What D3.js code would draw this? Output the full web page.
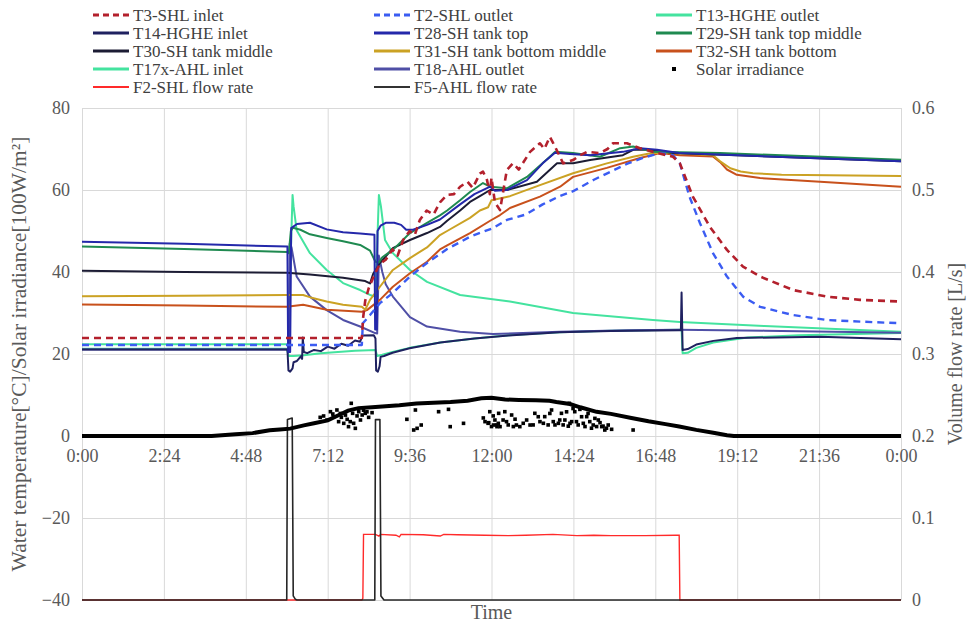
<!DOCTYPE html>
<html>
<head>
<meta charset="utf-8">
<script src="https://cdn.jsdelivr.net/npm/d3@7"></script>
<style>
  body { margin: 0; background: #fff; }
  text { font-family: "Liberation Serif", "Times New Roman", serif; }
</style>
</head>
<body>
<div id="chart"></div>
<script>
// time in hours, temperatures in degC, irradiance in 100 W/m2, flow in L/s
var timeTicks = [0, 2.4, 4.8, 7.2, 9.6, 12, 14.4, 16.8, 19.2, 21.6, 24];
var timeLabels = ["0:00", "2:24", "4:48", "7:12", "9:36", "12:00", "14:24", "16:48", "19:12", "21:36", "0:00"];
var tempTicks = [-40, -20, 0, 20, 40, 60, 80];
var flowTicks = [0, 0.1, 0.2, 0.3, 0.4, 0.5, 0.6];

var t3ShlInlet = [[0,23.9],[8.2,23.9],[8.24,29],[8.3,33],[8.4,36],[8.55,39],[8.73,42],[8.9,43],[9.1,45.5],[9.25,44],[9.41,47.8],[9.6,50],[9.75,49],[9.9,52.7],[10.1,55],[10.3,54],[10.49,57],[10.7,58.8],[10.9,59],[11.08,60.8],[11.3,62],[11.45,60.5],[11.66,64],[11.75,64.5],[11.87,62.4],[11.95,59],[12.0,63],[12.1,57],[12.25,55.1],[12.45,64.9],[12.63,66.5],[12.8,65],[13.13,69.3],[13.42,71.4],[13.55,70],[13.71,73],[13.86,70.6],[14.1,66.5],[14.39,67.3],[14.6,68.5],[14.8,69.3],[15.18,69],[15.4,70],[15.56,71.4],[15.97,71.4],[16.35,70.2],[16.73,69.3],[17.32,68.1],[17.52,66.5],[17.9,58.4],[18.4,51],[18.9,45.4],[19.37,41.3],[19.87,38.9],[20.84,35.6],[21.83,34],[22.8,33.2],[24,32.8]];
var t2ShlOutlet = [[0,22.2],[8.2,22.2],[8.23,27.5],[8.44,29.5],[8.73,32.4],[9.11,34.9],[9.61,38.9],[10.11,42.2],[10.7,45.6],[11.37,48.6],[12.04,50.7],[12.45,52.7],[13.0,54],[13.5,56.5],[14.0,58.5],[14.39,59.7],[15.0,62.5],[15.5,64.5],[16.0,66.5],[16.5,68],[16.94,69],[17.32,68.5],[17.52,66.5],[17.8,58.4],[18.11,51.9],[18.49,44.6],[18.9,38.9],[19.37,34],[19.87,31.5],[20.84,29.5],[21.83,28.3],[22.8,27.9],[24,27.5]];
var t13HgheOutlet = [[0,22.4],[6.05,22.4],[6.1,40],[6.17,58.8],[6.2,56],[6.29,50.2],[6.68,44.6],[7.17,40.5],[7.65,37.3],[8.15,35.6],[8.44,34.4],[8.6,34],[8.7,58.8],[8.76,56],[8.88,47.8],[9.11,44.6],[9.61,40.5],[10.11,37.6],[11.08,34.4],[12.54,32.8],[14.39,30],[16.73,28.3],[17.52,27.8],[20,26.8],[24,25.4]];
var t14HgheInlet = [[0,21.1],[6.02,21.1],[6.05,16],[6.1,15.7],[6.17,16.5],[6.2,18],[6.3,18.3],[6.42,19.5],[6.45,18.8],[6.47,24],[6.5,20.5],[6.6,20.2],[6.8,21],[7.0,20.7],[7.2,21.8],[7.4,21.3],[7.6,22.5],[7.8,22],[8.0,23.3],[8.15,23],[8.22,24.5],[8.55,24.6],[8.6,23.8],[8.62,16],[8.67,15.7],[8.72,17],[8.75,19.3],[8.85,19.5],[9.1,20.3],[9.6,21.4],[10.5,22.8],[11.5,23.8],[12.5,24.5],[14,25.3],[15.5,25.6],[17.5,25.8],[17.55,25.8],[17.57,35],[17.6,21],[17.75,21.2],[18,22.3],[18.5,23.2],[19.19,23.9],[21.63,24.2],[24,23.6]];
var t28ShTankTop = [[0,47.4],[3,46.9],[6.02,46.2],[6.04,20.5],[6.1,20.5],[6.13,50.7],[6.3,51.7],[6.68,52],[7.17,50.4],[7.65,49.7],[8.15,49.4],[8.57,49.1],[8.59,26],[8.64,26],[8.66,50],[8.75,51.3],[8.9,52],[9.15,52],[9.35,51.5],[9.5,50.3],[9.7,50.3],[10.11,51.5],[10.49,52.8],[11.08,56.5],[11.5,59],[11.96,60.8],[12.1,59.8],[12.45,60],[13.04,62.4],[13.5,66.5],[13.86,69.1],[14.3,68.8],[14.89,68.5],[15.85,69.3],[16.35,70.2],[16.85,69.8],[17.5,69],[24,67]];
var t29ShTankTopMiddle = [[0,46.2],[3,45.6],[6.02,44.9],[6.06,44.6],[6.12,50],[6.18,50.8],[6.4,50.3],[6.68,49.2],[7.17,48.3],[7.65,47.5],[8.15,46.6],[8.44,45.2],[8.6,42.5],[8.7,42.3],[8.8,43.6],[9.11,45.4],[9.61,49.5],[10.11,52],[10.49,53.8],[10.7,55],[11.08,57.5],[11.37,59.5],[11.75,61.7],[11.96,60.8],[12.45,60.4],[13.04,63.2],[13.71,68.1],[13.86,69.3],[14.39,69],[15.18,68.1],[15.77,70.2],[16.15,70.6],[16.73,69.3],[18.7,69],[24,67.4]];
var t30ShTankMiddle = [[0,40.3],[3,40],[6.0,39.8],[6.68,39.4],[7.65,38.6],[8.3,37.8],[8.44,37.2],[8.53,39.5],[8.73,42.2],[9.11,45.8],[9.61,47.8],[10.11,49.5],[10.49,51],[10.7,52.5],[11.08,55],[11.37,57.1],[11.66,58.5],[11.96,60],[12.45,60],[13.33,62],[13.92,66.5],[14.39,66.5],[14.89,67.3],[15.85,68.5],[16.15,69.8],[16.56,69.8],[17.32,69],[24,67]];
var t31ShTankBottomMiddle = [[0,34.1],[3,34.2],[6.0,34.4],[6.48,34.4],[6.7,33.8],[7.17,32.8],[7.65,32],[8.2,31.5],[8.3,30.8],[8.44,33.2],[8.73,36.4],[9.11,40.5],[9.61,43.4],[10.11,46],[10.49,49],[10.7,50],[11.37,53.2],[11.66,55],[11.9,55.8],[12.0,57.5],[12.54,58.5],[13.42,61.2],[14.39,64.1],[15.38,66.5],[16.15,68.1],[16.73,69.1],[17.32,69],[18.49,68.5],[18.7,67],[19.0,65.3],[19.3,64.5],[19.66,64.1],[20.5,63.7],[24,63.4]];
var t32ShTankBottom = [[0,32.1],[3,31.8],[6.0,31.5],[6.48,32],[7.17,30.8],[8.2,30.3],[8.35,30.7],[8.73,33.2],[9.11,36.4],[9.61,39.7],[10.11,42.5],[10.49,45.5],[10.7,46.5],[11.37,49.5],[11.96,52.5],[12.25,53.9],[12.54,55.6],[13.42,58.4],[14.01,60.8],[14.39,63.2],[15.38,65.4],[16.35,67.8],[16.94,69],[17.52,68.5],[18.49,68.2],[18.7,66.8],[18.9,65],[19.19,63.7],[19.87,62.9],[21.63,62],[24,60.8]];
var t17xAhlInlet = [[0,21.3],[6.0,21.3],[6.06,19.5],[6.2,19.5],[6.5,19.7],[7.0,20.2],[8.0,20.8],[8.6,21],[8.65,19.5],[8.8,19.8],[9.1,20.5],[9.6,21.5],[10.5,22.8],[11.5,23.8],[12.5,24.6],[14,25.3],[15.5,25.7],[17.5,25.9],[17.57,25.9],[17.6,20.2],[17.75,20.3],[18,21.5],[18.5,22.8],[19.5,24],[21,24.6],[24,25.1]];
var t18AhlOutlet = [[0,21.1],[6.02,21.1],[6.06,21],[6.09,47],[6.14,46],[6.29,38.9],[6.68,34],[7.17,30.7],[7.65,28.3],[8.15,26.7],[8.59,25.1],[8.65,25],[8.7,44],[8.8,40],[8.9,37],[9.11,34],[9.61,29],[10.11,26.7],[11.08,25.4],[12.04,24.9],[14,25.4],[16,25.8],[17.5,25.9],[20,25.7],[24,25.2]];

var solarMain = [[0,0],[3.8,0],[4.5,0.4],[5.0,0.7],[5.5,1.4],[5.8,1.6],[6.1,1.8],[6.5,2.6],[6.8,3.1],[7.2,3.8],[7.5,5],[7.8,6.2],[8.1,6.8],[8.5,7],[8.8,7.2],[9.3,7.5],[9.8,7.9],[10.3,8.1],[10.8,8.3],[11.3,8.6],[11.7,9.2],[12.0,9.3],[12.4,8.9],[12.8,8.8],[13.3,8.7],[13.7,8.6],[13.9,8.3],[14.3,7.8],[14.6,7],[15.08,5.9],[15.5,5.4],[16.1,4.4],[16.6,3.6],[17.1,2.9],[17.5,2.3],[18.0,1.5],[18.5,0.8],[18.9,0.2],[19.1,0],[24,0]];
var solarScatter = [[6.98,4.55],[7.08,4.88],[7.18,3.9],[7.28,5.93],[7.35,5.37],[7.37,4.7],[7.47,6.34],[7.52,3.5],[7.57,5.5],[7.6,4.55],[7.67,3.09],[7.72,5.1],[7.77,4.07],[7.81,2.28],[7.86,3.5],[7.89,7.97],[7.93,5.53],[7.96,3.1],[8.01,1.87],[8.06,4.9],[8.11,5.93],[8.16,3.9],[8.21,5.12],[8.25,6.3],[8.3,5.53],[8.35,5.9],[8.4,4.55],[8.5,5.69],
  [9.52,4.07],[9.72,1.46],[9.77,6.34],[9.82,1.87],[9.94,2.68],[10.45,5.93],[10.74,6.5],[10.79,2.28],[11.18,3.09],
  [11.76,4.4],[11.81,3.5],[11.9,3.1],[11.92,3.25],[11.95,5.93],[12.0,2.3],[12.05,4.9],[12.06,2.68],[12.1,3.9],[12.15,2.7],[12.16,2.28],[12.2,3.09],[12.21,5.53],[12.25,2.28],[12.34,3.9],[12.39,5.93],[12.44,3.5],[12.49,2.7],[12.59,5.12],[12.64,2.3],[12.69,4.1],[12.73,2.68],[12.83,2.28],[12.93,3.1],[13.03,3.9],[13.13,2.68],[13.22,2.7],[13.27,5.53],[13.37,4.7],[13.42,3.5],[13.52,3.1],[13.56,4.72],[13.66,2.7],[13.71,5.5],[13.76,6.34],[13.81,3.5],[13.86,2.7],[13.96,3.09],[14.0,3.9],[14.05,5.53],[14.1,2.7],[14.15,3.9],[14.2,5.9],[14.25,2.4],[14.28,7.97],[14.3,3.09],[14.35,3.5],[14.39,6.7],[14.44,5.93],[14.49,3.5],[14.54,2.7],[14.59,6.5],[14.64,4.7],[14.69,3.09],[14.74,2.3],[14.79,4.72],[14.83,5.5],[14.88,3.5],[14.93,1.9],[14.98,2.68],[15.03,4.3],[15.08,2.3],[15.13,3.9],[15.18,3.25],[15.23,2.28],[15.27,2.4],[15.32,1.46],[15.37,1.9],[15.42,2.68],[15.52,1.63],[16.15,1.46]];

var f2ShlFlow = [[0,0],[8.2,0],[8.23,0.002],[8.25,0.08],[8.6,0.08],[8.7,0.078],[8.75,0.08],[9.2,0.079],[9.3,0.077],[9.35,0.08],[10,0.0795],[10.5,0.078],[10.6,0.08],[11,0.0795],[11.8,0.079],[12.5,0.0785],[13,0.079],[13.8,0.08],[14.5,0.0785],[15,0.079],[15.5,0.0785],[16.5,0.0785],[17.4,0.079],[17.5,0.079],[17.52,0],[24,0]];
var f5AhlFlow = [[0,0],[6.0,0],[6.02,0.22],[6.16,0.222],[6.19,0.005],[6.25,0.001],[6.3,0],[8.58,0],[8.6,0.22],[8.73,0.22],[8.76,0.005],[8.85,0],[24,0]];

var chart_width = 969;
var chart_height = 626;
var plot_left = 82, plot_right = 901, plot_top = 108, plot_bottom = 600;

var svg = d3
  .select("#chart")
  .append("svg")
  .attr("width", chart_width)
  .attr("height", chart_height);

// Scales
var x_scale = d3.scaleLinear().domain([0, 24]).range([plot_left, plot_right]);
var y_temp = d3.scaleLinear().domain([-40, 80]).range([plot_bottom, plot_top]);
var y_flow = d3.scaleLinear().domain([0, 0.6]).range([plot_bottom, plot_top]);

// Gridlines
svg
  .append("g")
  .attr("transform", "translate(" + plot_left + ",0)")
  .call(d3.axisLeft(y_temp).tickValues(tempTicks).tickSize(-(plot_right - plot_left)).tickFormat(""))
  .call(function(g) { g.select(".domain").remove(); })
  .selectAll("line")
  .attr("stroke", "#d9d9d9");

svg
  .append("g")
  .attr("transform", "translate(0," + plot_bottom + ")")
  .call(d3.axisBottom(x_scale).tickValues(timeTicks).tickSize(-(plot_bottom - plot_top)).tickFormat(""))
  .call(function(g) { g.select(".domain").remove(); })
  .selectAll("line")
  .attr("stroke", "#d9d9d9");

// Series table
var tempSeries = [
  { name: "T13-HGHE outlet", data: t13HgheOutlet, color: "#44e39f", width: 2 },
  { name: "T17x-AHL inlet", data: t17xAhlInlet, color: "#44e39f", width: 2 },
  { name: "T18-AHL outlet", data: t18AhlOutlet, color: "#4f4fa6", width: 2 },
  { name: "T14-HGHE inlet", data: t14HgheInlet, color: "#1f2160", width: 2 },
  { name: "T32-SH tank bottom", data: t32ShTankBottom, color: "#c8511c", width: 2 },
  { name: "T31-SH tank bottom middle", data: t31ShTankBottomMiddle, color: "#cba224", width: 2 },
  { name: "T30-SH tank middle", data: t30ShTankMiddle, color: "#1c1c34", width: 2 },
  { name: "T29-SH tank top middle", data: t29ShTankTopMiddle, color: "#1f8a50", width: 2 },
  { name: "T28-SH tank top", data: t28ShTankTop, color: "#2428aa", width: 2 },
  { name: "T2-SHL outlet", data: t2ShlOutlet, color: "#3b5cf2", width: 2.4, dash: "7,5" },
  { name: "T3-SHL inlet", data: t3ShlInlet, color: "#b3202c", width: 2.6, dash: "7,5" }
];

var line_temp = d3.line()
  .x(function(d) { return x_scale(d[0]); })
  .y(function(d) { return y_temp(d[1]); });
var line_flow = d3.line()
  .x(function(d) { return x_scale(d[0]); })
  .y(function(d) { return y_flow(d[1]); });

svg
  .append("g")
  .selectAll("path")
  .data(tempSeries)
  .enter()
  .append("path")
  .attr("d", function(d) { return line_temp(d.data); })
  .attr("fill", "none")
  .attr("stroke", function(d) { return d.color; })
  .attr("stroke-width", function(d) { return d.width; })
  .attr("stroke-dasharray", function(d) { return d.dash || null; })
  .attr("stroke-linejoin", "round");

// Flow rates (right axis)
svg.append("path")
  .attr("d", line_flow(f2ShlFlow))
  .attr("fill", "none")
  .attr("stroke", "#ff2a2a")
  .attr("stroke-width", 1.4);
svg.append("path")
  .attr("d", line_flow(f5AhlFlow))
  .attr("fill", "none")
  .attr("stroke", "#262626")
  .attr("stroke-width", 1.6)
  .attr("stroke-linejoin", "round");

// Solar irradiance
svg.append("path")
  .attr("d", line_temp(solarMain))
  .attr("fill", "none")
  .attr("stroke", "#000")
  .attr("stroke-width", 4);
svg
  .append("g")
  .selectAll("rect")
  .data(solarScatter)
  .enter()
  .append("rect")
  .attr("x", function(d) { return x_scale(d[0]) - 1.8; })
  .attr("y", function(d) { return y_temp(d[1]) - 1.8; })
  .attr("width", 3.6)
  .attr("height", 3.6)
  .attr("fill", "#000");

// Axes labels
var tick_color = "#595959";
var left_axis = svg
  .append("g")
  .attr("transform", "translate(" + plot_left + ",0)")
  .call(d3.axisLeft(y_temp).tickValues(tempTicks).tickSize(0).tickPadding(12));
left_axis.select(".domain").remove();
left_axis.selectAll("text").attr("font-size", 18).attr("fill", tick_color);

var right_axis = svg
  .append("g")
  .attr("transform", "translate(" + plot_right + ",0)")
  .call(d3.axisRight(y_flow).tickValues(flowTicks).tickSize(0).tickPadding(11)
    .tickFormat(function(d) { return d === 0 ? "0" : d.toFixed(1); }));
right_axis.select(".domain").remove();
right_axis.selectAll("text").attr("font-size", 18).attr("fill", tick_color);

var x_axis = svg
  .append("g")
  .attr("transform", "translate(0," + y_temp(0) + ")")
  .call(d3.axisBottom(x_scale).tickValues(timeTicks).tickSize(0).tickPadding(13)
    .tickFormat(function(d, i) { return timeLabels[i]; }));
x_axis.select(".domain").remove();
x_axis.selectAll("text").attr("font-size", 18).attr("fill", tick_color);

// Axis titles
svg.append("text")
  .attr("transform", "translate(26," + ((plot_top + plot_bottom) / 2) + ") rotate(-90)")
  .attr("text-anchor", "middle")
  .attr("font-size", 21.5)
  .attr("fill", tick_color)
  .text("Water temperature[°C]/Solar  irradiance[100W/m²]");
svg.append("text")
  .attr("transform", "translate(962," + ((plot_top + plot_bottom) / 2) + ") rotate(-90)")
  .attr("text-anchor", "middle")
  .attr("font-size", 20)
  .attr("fill", tick_color)
  .text("Volume flow rate [L/s]");
svg.append("text")
  .attr("x", (plot_left + plot_right) / 2)
  .attr("y", 619)
  .attr("text-anchor", "middle")
  .attr("font-size", 20)
  .attr("fill", tick_color)
  .text("Time");

// Legend
var legendItems = [
  { name: "T3-SHL inlet", color: "#b3202c", dash: "6,4" },
  { name: "T2-SHL outlet", color: "#3b5cf2", dash: "6,4" },
  { name: "T13-HGHE outlet", color: "#44e39f" },
  { name: "T14-HGHE inlet", color: "#1f2160" },
  { name: "T28-SH tank top", color: "#2428aa" },
  { name: "T29-SH tank top middle", color: "#1f8a50" },
  { name: "T30-SH tank middle", color: "#1c1c34" },
  { name: "T31-SH tank bottom middle", color: "#cba224" },
  { name: "T32-SH tank bottom", color: "#c8511c" },
  { name: "T17x-AHL inlet", color: "#44e39f" },
  { name: "T18-AHL outlet", color: "#4f4fa6" },
  { name: "Solar irradiance", color: "#000", marker: true },
  { name: "F2-SHL flow rate", color: "#ff2a2a", thin: true },
  { name: "F5-AHL flow rate", color: "#333", thin: true }
];
var legend_x = [93, 374, 656];
var legend_y = [15, 33, 51, 69, 87];

var legend = svg
  .append("g")
  .selectAll("g")
  .data(legendItems)
  .enter()
  .append("g")
  .attr("transform", function(d, i) {
    return "translate(" + legend_x[i % 3] + "," + legend_y[Math.floor(i / 3)] + ")";
  });

legend
  .filter(function(d) { return !d.marker; })
  .append("line")
  .attr("x1", 0)
  .attr("x2", 36)
  .attr("stroke", function(d) { return d.color; })
  .attr("stroke-width", function(d) { return d.thin ? 2 : 3; })
  .attr("stroke-dasharray", function(d) { return d.dash || null; });

legend
  .filter(function(d) { return d.marker; })
  .append("rect")
  .attr("x", 16)
  .attr("y", -2)
  .attr("width", 4)
  .attr("height", 4)
  .attr("fill", "#000");

legend
  .append("text")
  .attr("x", 40)
  .attr("dy", "0.35em")
  .attr("font-size", 17)
  .attr("fill", "#404040")
  .text(function(d) { return d.name; });
</script>
</body>
</html>
